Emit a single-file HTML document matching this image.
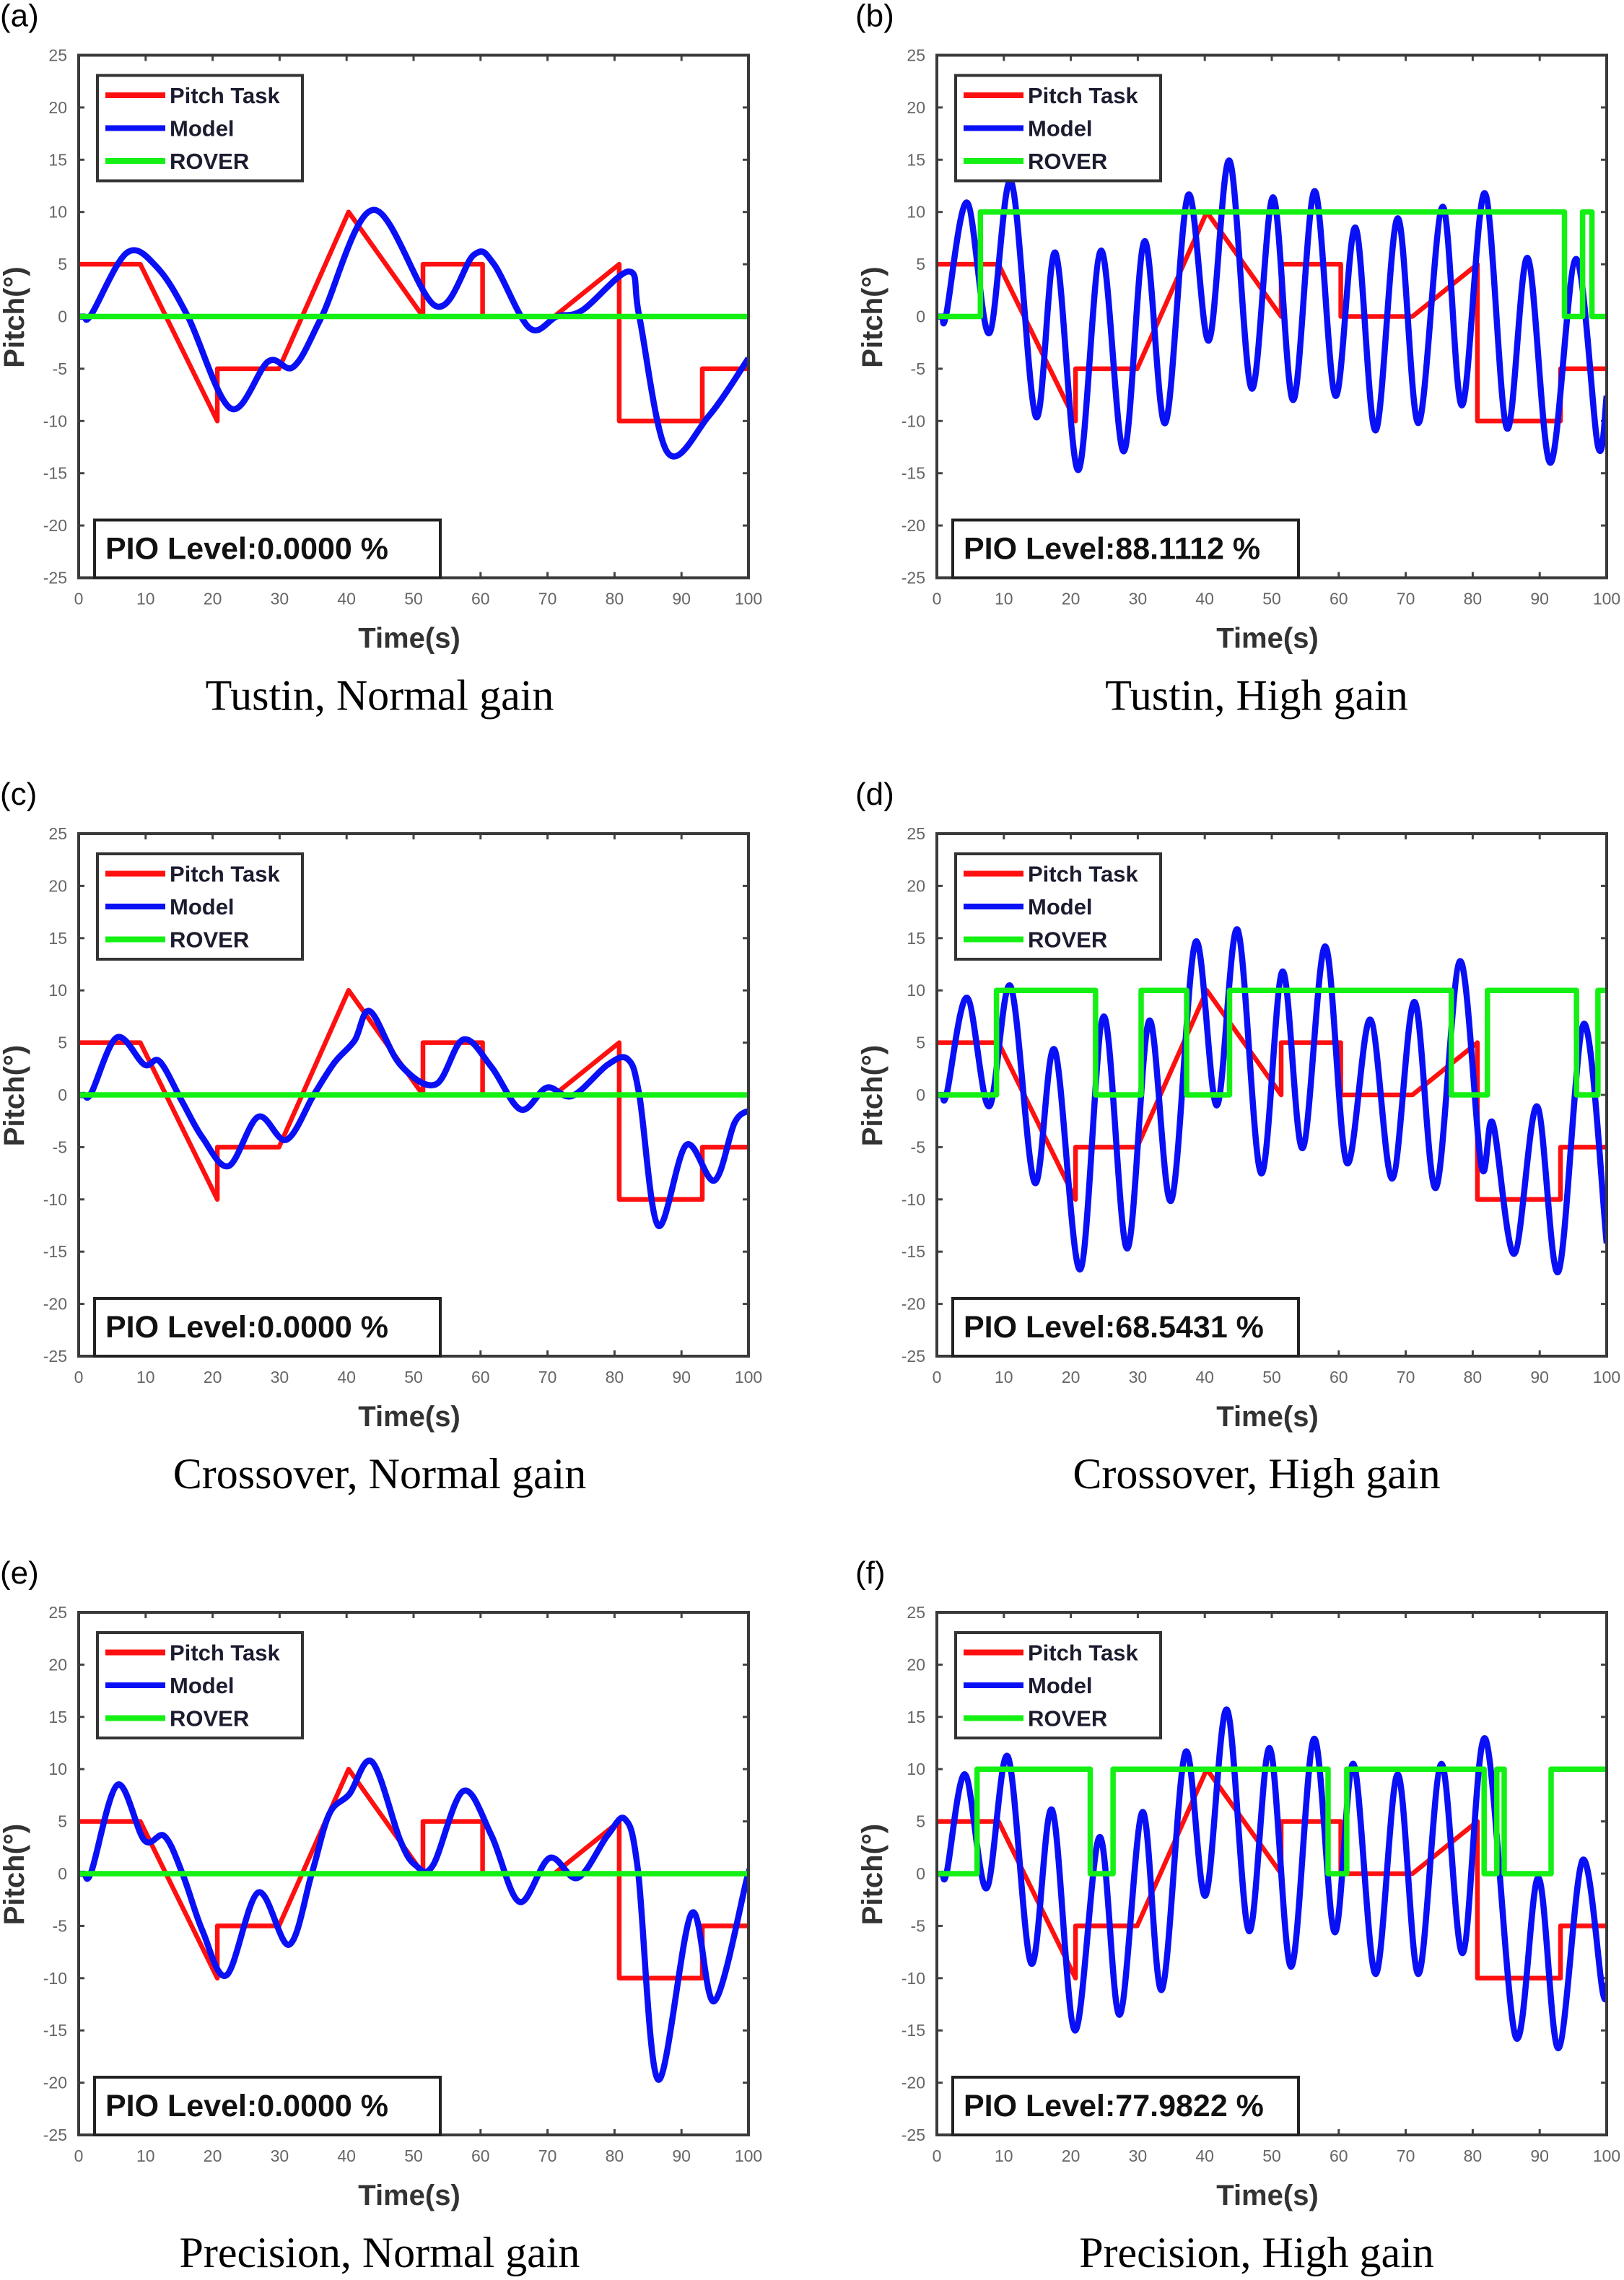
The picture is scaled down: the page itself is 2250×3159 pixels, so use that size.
<!DOCTYPE html>
<html><head><meta charset="utf-8">
<style>
html,body{margin:0;padding:0;background:#fff;}
svg{display:block;}
</style></head>
<body>
<svg id="fig" xmlns="http://www.w3.org/2000/svg" width="2250" height="3159" viewBox="0 0 2250 3159"></svg>
<script>
// ---- shared pitch task ----
const pitchT = [0,9.2,20.7,20.7,29.9,40.3,51.4,51.4,60.3,60.3,71,80.7,80.7,93.1,93.1,100];
const pitchV = [5,5,-10,-5,-5,10,0,5,5,0,0,5,-10,-10,-5,-5];
const xTicks = [0,10,20,30,40,50,60,70,80,90,100];
const yTicks = [-25,-20,-15,-10,-5,0,5,10,15,20,25];

// ---- (a) Tustin normal ----
const modelA_t = [0,0.8,1.9,7.2,11.7,16.3,22.7,28.3,32.1,36.3,44,53.3,59,62,67.3,71.4,75.2,82.2,83.7,87.9,94.1,100];
const modelA_v = [0,0,0.2,6.1,4.7,0,-8.8,-4.3,-4.8,0,10.2,1,5.9,5,-1.1,0,0.6,4.3,0,-13,-9.5,-4];
const roverA_t = [0,100];
const roverA_v = [0,0];
// ---- (b) Tustin high ----
const modelB_t = [0,0.8,1.4,4.5,7.8,11.1,14.8,17.7,21.1,24.5,27.9,31,34.1,37.5,40.6,43.7,47,50.2,53.2,56.4,59.5,62.5,65.5,68.8,71.9,75.5,78.4,81.8,85.1,88.2,91.6,95.4,98.7,100];
const modelB_v = [0,0,0.2,10.9,-1.6,12.9,-9.6,6.1,-14.7,6.3,-12.9,7.2,-10.2,11.6,-2.3,14.9,-6.9,11.4,-8,12,-7.6,8.5,-10.9,9.4,-10.2,10.5,-8.5,11.8,-10.7,5.6,-14,5.5,-12.4,-7.6];
const roverB_t = [0,6.5,6.5,93.7,93.7,96.4,96.4,97.8,97.8,100];
const roverB_v = [0,0,10,10,0,0,10,10,0,0];
// ---- (c) Crossover normal ----
const modelC_t = [0,0.8,1.9,5.7,9.8,12.1,15.5,18.5,22.4,26.8,31,35.1,38.2,41.2,43.5,48,53.3,57.4,61.6,66,69.9,73.7,79,82,83.7,86.5,90.7,94.9,97.9,100];
const modelC_v = [0,0,0.2,5.5,2.9,3.2,-0.7,-4.1,-6.8,-2.1,-4.3,0,3.1,5.2,8,2.9,1,5.3,2.7,-1.4,0.7,-0.1,2.9,3.4,0,-12.5,-4.8,-8.2,-2.7,-1.5];
const roverC_t = [0,100];
const roverC_v = [0,0];
// ---- (d) Crossover high ----
const modelD_t = [0,0.8,1.5,4.5,7.8,11,14.6,17.6,21.4,24.9,28.4,31.7,35,38.6,41.8,44.9,48.4,51.6,54.6,58,61.2,64.7,68,71.3,74.5,78.1,81.3,83,86.2,89.6,92.8,96.6,100];
const modelD_v = [0,0,0.2,9.3,-1.1,10.4,-8.4,4.3,-16.7,7.5,-14.7,7.1,-10.1,14.6,-1,15.8,-7.5,11.8,-5.1,14.2,-6.5,7.2,-8,8.9,-8.9,12.8,-6.8,-2.7,-15.2,-1.1,-16.9,6.8,-14.2];
const roverD_t = [0,8.9,8.9,23.7,23.7,30.5,30.5,37.3,37.3,43.7,43.7,76.8,76.8,82.2,82.2,95.5,95.5,98.7,98.7,100];
const roverD_v = [0,0,10,10,0,0,10,10,0,0,10,10,0,0,10,10,0,0,10,10];
// ---- (e) Precision normal ----
const modelE_t = [0,0.8,1.9,5.8,9.8,12.8,15.5,18.5,22.1,26.8,31.4,34.8,37.4,40.4,43.8,48,50.3,52.9,57.4,61.6,65.8,70.3,74.5,79,81.6,83.5,86.5,91.5,94.9,99.8,100];
const modelE_v = [0,0,0.2,8.5,3.2,3.6,0,-5.5,-9.7,-1.8,-6.8,0,5.7,7.6,10.7,3.2,0.8,0.8,7.9,3.7,-2.7,1.5,-0.4,3.7,5.2,0.3,-19.7,-3.8,-12.2,-0.4,-0.3];
const roverE_t = [0,100];
const roverE_v = [0,0];
// ---- (f) Precision high ----
const modelF_t = [0,0.8,1.5,4.2,7.4,10.6,14.1,17.2,20.6,24.3,27.3,30.7,33.6,37.1,40.1,43.3,46.6,49.7,52.9,56.3,59.4,62.2,65.5,68.8,71.9,75.3,78.5,81.9,86.4,89.8,92.8,96.4,99.4,100];
const modelF_v = [0,0,0.2,9.5,-1.4,11.2,-8.6,6.1,-15,3.5,-13.5,5.9,-11.1,11.6,-2.1,15.7,-5.5,12,-8.9,12.9,-5.6,10.5,-9.6,9.5,-9.6,10.5,-7.6,12.9,-15.6,-0.4,-16.7,1.3,-11.3,-10.5];
const roverF_t = [0,6,6,22.9,22.9,26.3,26.3,58.4,58.4,61.2,61.2,81.7,81.7,83.6,83.6,84.7,84.7,91.7,91.7,100];
const roverF_v = [0,0,10,10,0,0,10,10,0,0,10,10,0,0,10,10,0,0,10,10];

const NS = 'http://www.w3.org/2000/svg';
const svg = document.getElementById('fig');
function mk(tag, attrs, parent){
  const e = document.createElementNS(NS, tag);
  for (const k in attrs) e.setAttribute(k, attrs[k]);
  (parent||svg).appendChild(e);
  return e;
}
const COLX = [109, 1298];
const ROWY = [76.5, 1155, 2234];
const W = 928, H = 724;

const panels = [
  {id:'a', c:0, r:0, mt:modelA_t, mv:modelA_v, rt:roverA_t, rv:roverA_v, pio:'0.0000', cap:'Tustin, Normal gain'},
  {id:'b', c:1, r:0, mt:modelB_t, mv:modelB_v, rt:roverB_t, rv:roverB_v, pio:'88.1112', cap:'Tustin, High gain'},
  {id:'c', c:0, r:1, mt:modelC_t, mv:modelC_v, rt:roverC_t, rv:roverC_v, pio:'0.0000', cap:'Crossover, Normal gain'},
  {id:'d', c:1, r:1, mt:modelD_t, mv:modelD_v, rt:roverD_t, rv:roverD_v, pio:'68.5431', cap:'Crossover, High gain'},
  {id:'e', c:0, r:2, mt:modelE_t, mv:modelE_v, rt:roverE_t, rv:roverE_v, pio:'0.0000', cap:'Precision, Normal gain'},
  {id:'f', c:1, r:2, mt:modelF_t, mv:modelF_v, rt:roverF_t, rv:roverF_v, pio:'77.9822', cap:'Precision, High gain'}
];

function polyPath(ts, vs, xs, ys){
  let d='';
  for (let i=0;i<ts.length;i++) d += (i?'L':'M') + xs(ts[i]).toFixed(1) + ' ' + ys(vs[i]).toFixed(1);
  return d;
}
function smoothPath(ts, vs, xs, ys){
  const P = ts.map((t,i)=>[xs(t), ys(vs[i])]);
  let d = 'M'+P[0][0].toFixed(1)+' '+P[0][1].toFixed(1);
  for (let i=0;i<P.length-1;i++){
    const p0=P[Math.max(0,i-1)], p1=P[i], p2=P[i+1], p3=P[Math.min(P.length-1,i+2)];
    let c1=[p1[0]+(p2[0]-p0[0])/6, p1[1]+(p2[1]-p0[1])/6];
    if (i===0 || (i===1 && P[0][1]===P[1][1])) c1=[p1[0]+(p2[0]-p1[0])/3, p1[1]];
    const c2=[p2[0]-(p3[0]-p1[0])/6, p2[1]-(p3[1]-p1[1])/6];
    d += 'C'+c1[0].toFixed(1)+' '+c1[1].toFixed(1)+' '+c2[0].toFixed(1)+' '+c2[1].toFixed(1)+' '+p2[0].toFixed(1)+' '+p2[1].toFixed(1);
  }
  return d;
}

panels.forEach(p=>{
  const L = COLX[p.c], T = ROWY[p.r];
  const xs = t => L + t/100*W;
  const ys = v => T + (25 - v)/50*H;
  const g = mk('g', {});
  
  

  const lab = mk('text', {x: p.c ? L-113 : 0, y: T-40, 'font-family':'Liberation Sans, sans-serif', 'font-size':44, fill:'#000'}, g);
  lab.textContent = '('+p.id+')';
  
  

  const clipId = 'clip'+p.id;
  const cp = mk('clipPath', {id:clipId}, g);
  mk('rect', {x:L, y:T, width:W, height:H}, cp);

  const tg = mk('g', {}, g);
  
  
  xTicks.forEach(t=>{
    const x = xs(t);
    mk('line', {x1:x, y1:T, x2:x, y2:T+8, stroke:'#444', 'stroke-width':3}, tg);
    mk('line', {x1:x, y1:T+H, x2:x, y2:T+H-8, stroke:'#444', 'stroke-width':3}, tg);
    const tx = mk('text', {x:x, y:T+H+37, 'text-anchor':'middle', 'font-family':'Liberation Sans, sans-serif', 'font-size':23, fill:'#666'}, tg);
    tx.textContent = t;
    
    
  });
  yTicks.forEach(v=>{
    const y = ys(v);
    mk('line', {x1:L, y1:y, x2:L+8, y2:y, stroke:'#444', 'stroke-width':3}, tg);
    mk('line', {x1:L+W, y1:y, x2:L+W-8, y2:y, stroke:'#444', 'stroke-width':3}, tg);
    const ty = mk('text', {x:L-16, y:y+8, 'text-anchor':'end', 'font-family':'Liberation Sans, sans-serif', 'font-size':23, fill:'#666'}, tg);
    ty.textContent = v;
    
    
  });

  const sg = mk('g', {'clip-path':'url(#'+clipId+')', fill:'none', 'stroke-linejoin':'round'}, g);
  const red = mk('path', {d: polyPath(pitchT, pitchV, xs, ys), stroke:'#ff1010', 'stroke-width':6.5}, sg);
  
  
  const blue = mk('path', {d: smoothPath(p.mt, p.mv, xs, ys), stroke:'#0a10f5', 'stroke-width':8.5}, sg);
  
  
  const green = mk('path', {d: polyPath(p.rt, p.rv, xs, ys), stroke:'#14f014', 'stroke-width':7.5}, sg);
  
  

  const fr = mk('rect', {x:L, y:T, width:W, height:H, fill:'none', stroke:'#3a3a3a', 'stroke-width':4}, g);
  
  

  const lg = mk('g', {}, g);
  
  
  mk('rect', {x:L+26, y:T+28, width:284, height:146, fill:'#fff', stroke:'#333', 'stroke-width':4}, lg);
  const items = [['Pitch Task','#ff1010'],['Model','#0a10f5'],['ROVER','#14f014']];
  items.forEach((it,i)=>{
    const yy = T+55.5+i*45.5;
    const ln = mk('line', {x1:L+37, y1:yy, x2:L+120, y2:yy, stroke:it[1], 'stroke-width':8}, lg);
    
    
    const tx = mk('text', {x:L+126, y:yy+11, 'font-family':'Liberation Sans, sans-serif', 'font-size':31, 'font-weight':'bold', fill:'#1c1c30'}, lg);
    tx.textContent = it[0];
    
    
  });

  const pb = mk('g', {}, g);
  
  
  mk('rect', {x:L+22, y:T+644, width:479, height:H-644, fill:'#fff', stroke:'#222', 'stroke-width':4}, pb);
  const pt = mk('text', {x:L+37, y:T+698, 'font-family':'Liberation Sans, sans-serif', 'font-size':43, 'font-weight':'bold', fill:'#111'}, pb);
  pt.textContent = 'PIO Level:'+p.pio+' %';
  
  

  const xt = mk('text', {x:L+458, y:T+H+97, 'text-anchor':'middle', 'font-family':'Liberation Sans, sans-serif', 'font-size':40, 'font-weight':'bold', fill:'#333'}, g);
  xt.textContent = 'Time(s)';
  
  
  const yx = L-76, yy = T+363;
  const yt = mk('text', {x:yx, y:yy, transform:'rotate(-90 '+yx+' '+yy+')', 'text-anchor':'middle', 'font-family':'Liberation Sans, sans-serif', 'font-size':40, 'font-weight':'bold', fill:'#333'}, g);
  yt.textContent = 'Pitch(°)';
  
  

  const cap = mk('text', {x:L+ (p.c?443:417), y:T+907, 'text-anchor':'middle', 'font-family':'Liberation Serif, serif', 'font-size':60, fill:'#000'}, g);
  cap.textContent = p.cap;
  
  
});
</script>
</body></html>
